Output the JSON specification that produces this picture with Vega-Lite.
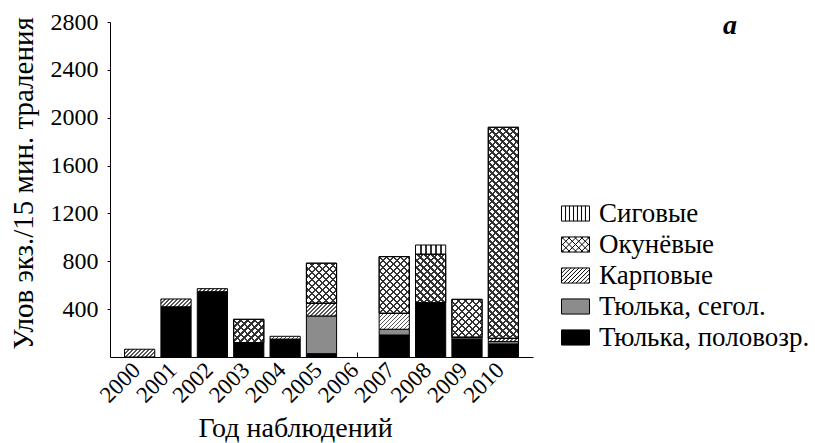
{
  "$schema": "https://vega.github.io/schema/vega-lite/v6.json",
  "width": 423,
  "height": 335,
  "autosize": {"type": "none"},
  "padding": {"left": 110, "top": 22, "right": 282, "bottom": 86},
  "background": "white",
  "config": {
    "view": {"stroke": null},
    "font": "Liberation Serif"
  },
  "title": {
    "text": "a",
    "anchor": "start",
    "frame": "group",
    "dx": 613,
    "offset": -52,
    "baseline": "alphabetic",
    "font": "Liberation Serif",
    "fontSize": 28,
    "fontStyle": "italic",
    "fontWeight": "bold",
    "color": "#000"
  },
  "params": [
    {"name": "sigStops", "value": [
      {"offset": 0, "color": "#fff"}, {"offset": 0.155, "color": "#fff"}, {"offset": 0.155, "color": "#333"}, {"offset": 0.2, "color": "#333"},
      {"offset": 0.2, "color": "#fff"}, {"offset": 0.322, "color": "#fff"}, {"offset": 0.322, "color": "#333"}, {"offset": 0.367, "color": "#333"},
      {"offset": 0.367, "color": "#fff"}, {"offset": 0.489, "color": "#fff"}, {"offset": 0.489, "color": "#333"}, {"offset": 0.534, "color": "#333"},
      {"offset": 0.534, "color": "#fff"}, {"offset": 0.656, "color": "#fff"}, {"offset": 0.656, "color": "#333"}, {"offset": 0.701, "color": "#333"},
      {"offset": 0.701, "color": "#fff"}, {"offset": 0.823, "color": "#fff"}, {"offset": 0.823, "color": "#333"}, {"offset": 0.868, "color": "#333"},
      {"offset": 0.868, "color": "#fff"}, {"offset": 1, "color": "#fff"}
    ]},
    {"name": "carpStops", "value": [
      {"offset": 0, "color": "#555"}, {"offset": 0.018, "color": "#555"}, {"offset": 0.018, "color": "#fff"}, {"offset": 0.05, "color": "#fff"},
      {"offset": 0.05, "color": "#555"}, {"offset": 0.068, "color": "#555"}, {"offset": 0.068, "color": "#fff"}, {"offset": 0.1, "color": "#fff"},
      {"offset": 0.1, "color": "#555"}, {"offset": 0.118, "color": "#555"}, {"offset": 0.118, "color": "#fff"}, {"offset": 0.15, "color": "#fff"},
      {"offset": 0.15, "color": "#555"}, {"offset": 0.168, "color": "#555"}, {"offset": 0.168, "color": "#fff"}, {"offset": 0.2, "color": "#fff"},
      {"offset": 0.2, "color": "#555"}, {"offset": 0.218, "color": "#555"}, {"offset": 0.218, "color": "#fff"}, {"offset": 0.25, "color": "#fff"},
      {"offset": 0.25, "color": "#555"}, {"offset": 0.268, "color": "#555"}, {"offset": 0.268, "color": "#fff"}, {"offset": 0.3, "color": "#fff"},
      {"offset": 0.3, "color": "#555"}, {"offset": 0.318, "color": "#555"}, {"offset": 0.318, "color": "#fff"}, {"offset": 0.35, "color": "#fff"},
      {"offset": 0.35, "color": "#555"}, {"offset": 0.368, "color": "#555"}, {"offset": 0.368, "color": "#fff"}, {"offset": 0.4, "color": "#fff"},
      {"offset": 0.4, "color": "#555"}, {"offset": 0.418, "color": "#555"}, {"offset": 0.418, "color": "#fff"}, {"offset": 0.45, "color": "#fff"},
      {"offset": 0.45, "color": "#555"}, {"offset": 0.468, "color": "#555"}, {"offset": 0.468, "color": "#fff"}, {"offset": 0.5, "color": "#fff"},
      {"offset": 0.5, "color": "#555"}, {"offset": 0.518, "color": "#555"}, {"offset": 0.518, "color": "#fff"}, {"offset": 0.55, "color": "#fff"},
      {"offset": 0.55, "color": "#555"}, {"offset": 0.568, "color": "#555"}, {"offset": 0.568, "color": "#fff"}, {"offset": 0.6, "color": "#fff"},
      {"offset": 0.6, "color": "#555"}, {"offset": 0.618, "color": "#555"}, {"offset": 0.618, "color": "#fff"}, {"offset": 0.65, "color": "#fff"},
      {"offset": 0.65, "color": "#555"}, {"offset": 0.668, "color": "#555"}, {"offset": 0.668, "color": "#fff"}, {"offset": 0.7, "color": "#fff"},
      {"offset": 0.7, "color": "#555"}, {"offset": 0.718, "color": "#555"}, {"offset": 0.718, "color": "#fff"}, {"offset": 0.75, "color": "#fff"},
      {"offset": 0.75, "color": "#555"}, {"offset": 0.768, "color": "#555"}, {"offset": 0.768, "color": "#fff"}, {"offset": 0.8, "color": "#fff"},
      {"offset": 0.8, "color": "#555"}, {"offset": 0.818, "color": "#555"}, {"offset": 0.818, "color": "#fff"}, {"offset": 0.85, "color": "#fff"},
      {"offset": 0.85, "color": "#555"}, {"offset": 0.868, "color": "#555"}, {"offset": 0.868, "color": "#fff"}, {"offset": 0.9, "color": "#fff"},
      {"offset": 0.9, "color": "#555"}, {"offset": 0.918, "color": "#555"}, {"offset": 0.918, "color": "#fff"}, {"offset": 0.95, "color": "#fff"},
      {"offset": 0.95, "color": "#555"}, {"offset": 0.968, "color": "#555"}, {"offset": 0.968, "color": "#fff"}, {"offset": 1, "color": "#fff"}
    ]},
    {"name": "perchStops", "value": [
      {"offset": 0, "color": "#333"}, {"offset": 0.0075, "color": "#333"}, {"offset": 0.0075, "color": "transparent"}, {"offset": 0.025, "color": "transparent"},
      {"offset": 0.025, "color": "#333"}, {"offset": 0.0325, "color": "#333"}, {"offset": 0.0325, "color": "transparent"}, {"offset": 0.05, "color": "transparent"},
      {"offset": 0.05, "color": "#333"}, {"offset": 0.0575, "color": "#333"}, {"offset": 0.0575, "color": "transparent"}, {"offset": 0.075, "color": "transparent"},
      {"offset": 0.075, "color": "#333"}, {"offset": 0.0825, "color": "#333"}, {"offset": 0.0825, "color": "transparent"}, {"offset": 0.1, "color": "transparent"},
      {"offset": 0.1, "color": "#333"}, {"offset": 0.1075, "color": "#333"}, {"offset": 0.1075, "color": "transparent"}, {"offset": 0.125, "color": "transparent"},
      {"offset": 0.125, "color": "#333"}, {"offset": 0.1325, "color": "#333"}, {"offset": 0.1325, "color": "transparent"}, {"offset": 0.15, "color": "transparent"},
      {"offset": 0.15, "color": "#333"}, {"offset": 0.1575, "color": "#333"}, {"offset": 0.1575, "color": "transparent"}, {"offset": 0.175, "color": "transparent"},
      {"offset": 0.175, "color": "#333"}, {"offset": 0.1825, "color": "#333"}, {"offset": 0.1825, "color": "transparent"}, {"offset": 0.2, "color": "transparent"},
      {"offset": 0.2, "color": "#333"}, {"offset": 0.2075, "color": "#333"}, {"offset": 0.2075, "color": "transparent"}, {"offset": 0.225, "color": "transparent"},
      {"offset": 0.225, "color": "#333"}, {"offset": 0.2325, "color": "#333"}, {"offset": 0.2325, "color": "transparent"}, {"offset": 0.25, "color": "transparent"},
      {"offset": 0.25, "color": "#333"}, {"offset": 0.2575, "color": "#333"}, {"offset": 0.2575, "color": "transparent"}, {"offset": 0.275, "color": "transparent"},
      {"offset": 0.275, "color": "#333"}, {"offset": 0.2825, "color": "#333"}, {"offset": 0.2825, "color": "transparent"}, {"offset": 0.3, "color": "transparent"},
      {"offset": 0.3, "color": "#333"}, {"offset": 0.3075, "color": "#333"}, {"offset": 0.3075, "color": "transparent"}, {"offset": 0.325, "color": "transparent"},
      {"offset": 0.325, "color": "#333"}, {"offset": 0.3325, "color": "#333"}, {"offset": 0.3325, "color": "transparent"}, {"offset": 0.35, "color": "transparent"},
      {"offset": 0.35, "color": "#333"}, {"offset": 0.3575, "color": "#333"}, {"offset": 0.3575, "color": "transparent"}, {"offset": 0.375, "color": "transparent"},
      {"offset": 0.375, "color": "#333"}, {"offset": 0.3825, "color": "#333"}, {"offset": 0.3825, "color": "transparent"}, {"offset": 0.4, "color": "transparent"},
      {"offset": 0.4, "color": "#333"}, {"offset": 0.4075, "color": "#333"}, {"offset": 0.4075, "color": "transparent"}, {"offset": 0.425, "color": "transparent"},
      {"offset": 0.425, "color": "#333"}, {"offset": 0.4325, "color": "#333"}, {"offset": 0.4325, "color": "transparent"}, {"offset": 0.45, "color": "transparent"},
      {"offset": 0.45, "color": "#333"}, {"offset": 0.4575, "color": "#333"}, {"offset": 0.4575, "color": "transparent"}, {"offset": 0.475, "color": "transparent"},
      {"offset": 0.475, "color": "#333"}, {"offset": 0.4825, "color": "#333"}, {"offset": 0.4825, "color": "transparent"}, {"offset": 0.5, "color": "transparent"},
      {"offset": 0.5, "color": "#333"}, {"offset": 0.5075, "color": "#333"}, {"offset": 0.5075, "color": "transparent"}, {"offset": 0.525, "color": "transparent"},
      {"offset": 0.525, "color": "#333"}, {"offset": 0.5325, "color": "#333"}, {"offset": 0.5325, "color": "transparent"}, {"offset": 0.55, "color": "transparent"},
      {"offset": 0.55, "color": "#333"}, {"offset": 0.5575, "color": "#333"}, {"offset": 0.5575, "color": "transparent"}, {"offset": 0.575, "color": "transparent"},
      {"offset": 0.575, "color": "#333"}, {"offset": 0.5825, "color": "#333"}, {"offset": 0.5825, "color": "transparent"}, {"offset": 0.6, "color": "transparent"},
      {"offset": 0.6, "color": "#333"}, {"offset": 0.6075, "color": "#333"}, {"offset": 0.6075, "color": "transparent"}, {"offset": 0.625, "color": "transparent"},
      {"offset": 0.625, "color": "#333"}, {"offset": 0.6325, "color": "#333"}, {"offset": 0.6325, "color": "transparent"}, {"offset": 0.65, "color": "transparent"},
      {"offset": 0.65, "color": "#333"}, {"offset": 0.6575, "color": "#333"}, {"offset": 0.6575, "color": "transparent"}, {"offset": 0.675, "color": "transparent"},
      {"offset": 0.675, "color": "#333"}, {"offset": 0.6825, "color": "#333"}, {"offset": 0.6825, "color": "transparent"}, {"offset": 0.7, "color": "transparent"},
      {"offset": 0.7, "color": "#333"}, {"offset": 0.7075, "color": "#333"}, {"offset": 0.7075, "color": "transparent"}, {"offset": 0.725, "color": "transparent"},
      {"offset": 0.725, "color": "#333"}, {"offset": 0.7325, "color": "#333"}, {"offset": 0.7325, "color": "transparent"}, {"offset": 0.75, "color": "transparent"},
      {"offset": 0.75, "color": "#333"}, {"offset": 0.7575, "color": "#333"}, {"offset": 0.7575, "color": "transparent"}, {"offset": 0.775, "color": "transparent"},
      {"offset": 0.775, "color": "#333"}, {"offset": 0.7825, "color": "#333"}, {"offset": 0.7825, "color": "transparent"}, {"offset": 0.8, "color": "transparent"},
      {"offset": 0.8, "color": "#333"}, {"offset": 0.8075, "color": "#333"}, {"offset": 0.8075, "color": "transparent"}, {"offset": 0.825, "color": "transparent"},
      {"offset": 0.825, "color": "#333"}, {"offset": 0.8325, "color": "#333"}, {"offset": 0.8325, "color": "transparent"}, {"offset": 0.85, "color": "transparent"},
      {"offset": 0.85, "color": "#333"}, {"offset": 0.8575, "color": "#333"}, {"offset": 0.8575, "color": "transparent"}, {"offset": 0.875, "color": "transparent"},
      {"offset": 0.875, "color": "#333"}, {"offset": 0.8825, "color": "#333"}, {"offset": 0.8825, "color": "transparent"}, {"offset": 0.9, "color": "transparent"},
      {"offset": 0.9, "color": "#333"}, {"offset": 0.9075, "color": "#333"}, {"offset": 0.9075, "color": "transparent"}, {"offset": 0.925, "color": "transparent"},
      {"offset": 0.925, "color": "#333"}, {"offset": 0.9325, "color": "#333"}, {"offset": 0.9325, "color": "transparent"}, {"offset": 0.95, "color": "transparent"},
      {"offset": 0.95, "color": "#333"}, {"offset": 0.9575, "color": "#333"}, {"offset": 0.9575, "color": "transparent"}, {"offset": 0.975, "color": "transparent"},
      {"offset": 0.975, "color": "#333"}, {"offset": 0.9825, "color": "#333"}, {"offset": 0.9825, "color": "transparent"}, {"offset": 1, "color": "transparent"}
    ]}
  ],
  "data": {
    "values": [
      {"year": "2000", "species": "Карповые", "value": 65},
      {"year": "2001", "species": "Тюлька, половозр.", "value": 420},
      {"year": "2001", "species": "Карповые", "value": 65},
      {"year": "2002", "species": "Тюлька, половозр.", "value": 546},
      {"year": "2002", "species": "Карповые", "value": 25},
      {"year": "2003", "species": "Тюлька, половозр.", "value": 120},
      {"year": "2003", "species": "Окунёвые", "value": 195},
      {"year": "2004", "species": "Тюлька, половозр.", "value": 150},
      {"year": "2004", "species": "Карповые", "value": 23},
      {"year": "2005", "species": "Тюлька, половозр.", "value": 28},
      {"year": "2005", "species": "Тюлька, сегол.", "value": 315},
      {"year": "2005", "species": "Карповые", "value": 106},
      {"year": "2005", "species": "Окунёвые", "value": 335},
      {"year": "2007", "species": "Тюлька, половозр.", "value": 184},
      {"year": "2007", "species": "Тюлька, сегол.", "value": 48},
      {"year": "2007", "species": "Карповые", "value": 133},
      {"year": "2007", "species": "Окунёвые", "value": 474},
      {"year": "2008", "species": "Тюлька, половозр.", "value": 455},
      {"year": "2008", "species": "Окунёвые", "value": 404},
      {"year": "2008", "species": "Сиговые", "value": 77},
      {"year": "2009", "species": "Тюлька, половозр.", "value": 150},
      {"year": "2009", "species": "Тюлька, сегол.", "value": 15},
      {"year": "2009", "species": "Окунёвые", "value": 317},
      {"year": "2010", "species": "Тюлька, половозр.", "value": 109},
      {"year": "2010", "species": "Тюлька, сегол.", "value": 20},
      {"year": "2010", "species": "Карповые", "value": 27},
      {"year": "2010", "species": "Окунёвые", "value": 1764}
    ]
  },
  "transform": [
    {"calculate": "indexof(['Тюлька, половозр.', 'Тюлька, сегол.', 'Карповые', 'Окунёвые', 'Сиговые'], datum.species)", "as": "ord"},
    {"stack": "value", "groupby": ["year"], "sort": [{"field": "ord", "order": "ascending"}], "as": ["v0", "v1"]}
  ],
  "encoding": {
    "x": {
      "field": "year",
      "type": "ordinal",
      "scale": {
        "domain": ["2000", "2001", "2002", "2003", "2004", "2005", "2006", "2007", "2008", "2009", "2010"],
        "paddingInner": 0.17,
        "paddingOuter": 0.4
      },
      "axis": {
        "title": "Год наблюдений",
        "titleFont": "Liberation Serif",
        "titleFontSize": 28,
        "titleFontWeight": "normal",
        "titleColor": "#000",
        "titleX": 185,
        "titleY": 79,
        "titleAlign": "center",
        "titleBaseline": "alphabetic",
        "labelAngle": -45,
        "labelAlign": "right",
        "labelBaseline": "alphabetic",
        "labelFont": "Liberation Serif",
        "labelFontSize": 23,
        "labelColor": "#000",
        "labelPadding": 19,
        "labelOffset": 2,
        "domainColor": "#000",
        "domainWidth": 1,
        "ticks": true,
        "tickSize": -5,
        "tickColor": "#000",
        "grid": false
      }
    },
    "y": {
      "field": "v1",
      "type": "quantitative",
      "scale": {"domain": [0, 2800], "nice": false, "zero": true},
      "axis": {
        "title": "Улов экз./15 мин. траления",
        "titleFont": "Liberation Serif",
        "titleFontSize": 29,
        "titleFontWeight": "normal",
        "titleColor": "#000",
        "titleAngle": -90,
        "titleX": -78,
        "titleY": 161,
        "titleAlign": "center",
        "titleBaseline": "alphabetic",
        "values": [400, 800, 1200, 1600, 2000, 2400, 2800],
        "format": "d",
        "labelFont": "Liberation Serif",
        "labelFontSize": 24,
        "labelColor": "#000",
        "labelPadding": 9,
        "tickSize": 3,
        "tickColor": "#000",
        "domainColor": "#000",
        "domainWidth": 1,
        "grid": false
      }
    },
    "y2": {"field": "v0"}
  },
  "layer": [
    {
      "mark": {
        "type": "bar",
        "stroke": "#000",
        "strokeWidth": 1,
        "fill": {"expr": "datum.species === 'Тюлька, половозр.' ? '#000' : datum.species === 'Тюлька, сегол.' ? '#8c8c8c' : datum.species === 'Сиговые' ? {gradient: 'linear', x1: 0, y1: 0, x2: 1, y2: 0, stops: sigStops} : datum.species === 'Карповые' ? {gradient: 'linear', x1: 0, y1: 0, x2: bandwidth('x') * 80 / (pow(bandwidth('x'), 2) + pow(scale('y', datum.v0) - scale('y', datum.v1), 2)), y2: abs(scale('y', datum.v0) - scale('y', datum.v1)) * 80 / (pow(bandwidth('x'), 2) + pow(scale('y', datum.v0) - scale('y', datum.v1), 2)), stops: carpStops} : {gradient: 'linear', x1: 0, y1: 0, x2: bandwidth('x') * 280 / (pow(bandwidth('x'), 2) + pow(scale('y', datum.v0) - scale('y', datum.v1), 2)), y2: abs(scale('y', datum.v0) - scale('y', datum.v1)) * 280 / (pow(bandwidth('x'), 2) + pow(scale('y', datum.v0) - scale('y', datum.v1), 2)), stops: perchStops}"}
      }
    },
    {
      "transform": [{"filter": "datum.species === 'Окунёвые'"}],
      "mark": {
        "type": "bar",
        "stroke": "#000",
        "strokeWidth": 1,
        "fill": {"expr": "{gradient: 'linear', x1: 0, y1: 1, x2: bandwidth('x') * 280 / (pow(bandwidth('x'), 2) + pow(scale('y', datum.v0) - scale('y', datum.v1), 2)), y2: 1 - abs(scale('y', datum.v0) - scale('y', datum.v1)) * 280 / (pow(bandwidth('x'), 2) + pow(scale('y', datum.v0) - scale('y', datum.v1), 2)), stops: perchStops}"}
      }
    },
    {
      "mark": {"type": "point", "filled": true, "opacity": 0, "strokeWidth": 1},
      "encoding": {
        "y": {"field": "v0", "type": "quantitative"},
        "y2": null,
        "fill": {
          "field": "species",
          "type": "nominal",
          "scale": {
            "domain": ["Сиговые", "Окунёвые", "Карповые", "Тюлька, сегол.", "Тюлька, половозр."],
            "range": ["#fff", "#fff", "#fff", "#8c8c8c", "#000"]
          },
          "legend": {
            "orient": "none", "legendX": 451, "legendY": 177, "title": null, "padding": 0,
            "symbolSize": 784, "symbolStrokeWidth": 1, "symbolOpacity": 1,
            "labelFont": "Liberation Serif", "labelFontSize": 27, "labelColor": "#000",
            "labelOffset": 9, "labelLimit": 300, "rowPadding": 3
          }
        },
        "stroke": {
          "field": "species",
          "type": "nominal",
          "scale": {
            "domain": ["Сиговые", "Окунёвые", "Карповые", "Тюлька, сегол.", "Тюлька, половозр."],
            "range": ["#000", "#000", "#000", "#000", "#000"]
          },
          "legend": {
            "orient": "none", "legendX": 451, "legendY": 177, "title": null, "padding": 0,
            "symbolSize": 784, "symbolStrokeWidth": 1, "symbolOpacity": 1,
            "labelFont": "Liberation Serif", "labelFontSize": 27, "labelColor": "#000",
            "labelOffset": 9, "labelLimit": 300, "rowPadding": 3
          }
        },
        "shape": {
          "field": "species",
          "type": "nominal",
          "scale": {
            "domain": ["Сиговые", "Окунёвые", "Карповые", "Тюлька, сегол.", "Тюлька, половозр."],
            "range": [
              "M-1,-0.54H1V0.54H-1ZM-0.71,-0.54V0.54M-0.43,-0.54V0.54M-0.14,-0.54V0.54M0.14,-0.54V0.54M0.43,-0.54V0.54M0.71,-0.54V0.54",
              "M-1,-0.54H1V0.54H-1ZM-1,-0.38L-0.84,-0.54M-1,0.08L-0.38,-0.54M-1,0.54L0.08,-0.54M-0.54,0.54L0.54,-0.54M-0.08,0.54L1,-0.54M0.38,0.54L1,-0.08M0.84,0.54L1,0.38M-1,0.38L-0.84,0.54M-1,-0.08L-0.38,0.54M-1,-0.54L0.08,0.54M-0.54,-0.54L0.54,0.54M-0.08,-0.54L1,0.54M0.38,-0.54L1,0.08M0.84,-0.54L1,-0.38",
              "M-1,-0.54H1V0.54H-1ZM-1,-0.45L-0.91,-0.54M-1,-0.16L-0.62,-0.54M-1,0.13L-0.33,-0.54M-1,0.42L-0.04,-0.54M-0.83,0.54L0.25,-0.54M-0.54,0.54L0.54,-0.54M-0.25,0.54L0.83,-0.54M0.04,0.54L1,-0.42M0.33,0.54L1,-0.13M0.62,0.54L1,0.16M0.91,0.54L1,0.45",
              "M-1,-0.54H1V0.54H-1Z",
              "M-1,-0.54H1V0.54H-1Z"
            ]
          },
          "legend": {
            "orient": "none", "legendX": 451, "legendY": 177, "title": null, "padding": 0,
            "symbolSize": 784, "symbolStrokeWidth": 1, "symbolOpacity": 1,
            "labelFont": "Liberation Serif", "labelFontSize": 27, "labelColor": "#000",
            "labelOffset": 9, "labelLimit": 300, "rowPadding": 3
          }
        }
      }
    }
  ]
}
